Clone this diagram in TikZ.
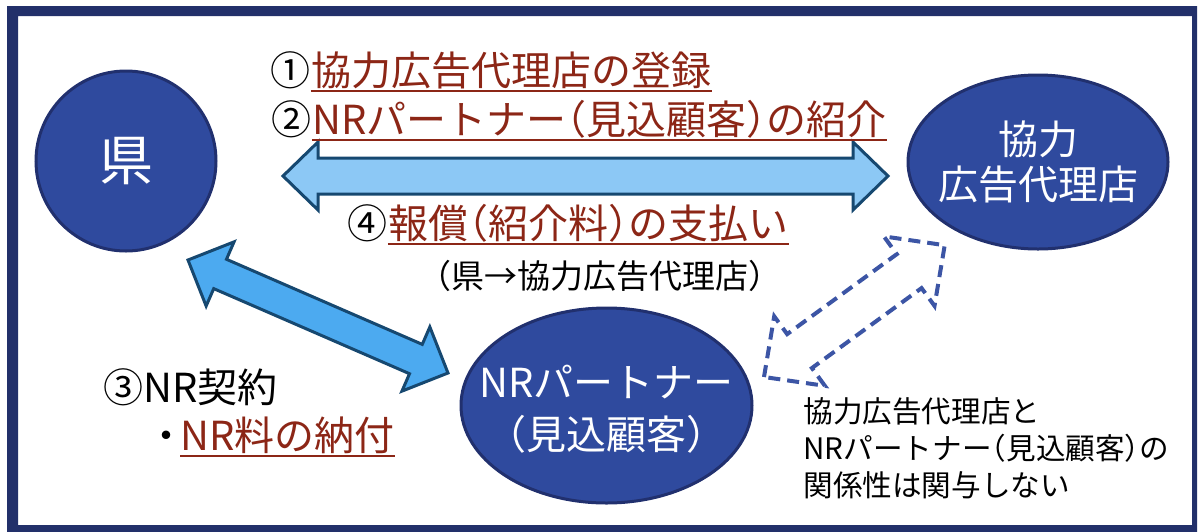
\documentclass[tikz,border=0pt]{standalone}
\usepackage{fontspec}
\setmainfont{Noto Sans CJK JP}
\newfontfamily\haltfont[RawFeature=+halt]{Noto Sans CJK JP}
\newcommand{\lkak}{{\haltfont （}}
\newcommand{\rkak}{{\haltfont ）}}
\usetikzlibrary{shapes.geometric,calc,positioning}

\definecolor{frameblue}{RGB}{34,48,106}
\definecolor{nodeblue}{RGB}{47,74,158}
\definecolor{nodeedge}{RGB}{33,48,110}
\definecolor{lightarrow}{RGB}{140,200,245}
\definecolor{midarrow}{RGB}{76,170,240}
\definecolor{arrowedge}{RGB}{22,72,112}
\definecolor{dashblue}{RGB}{60,85,165}
\definecolor{ulred}{RGB}{140,38,22}

\tikzset{
  bignode/.style={draw=nodeedge, fill=nodeblue, line width=1.5pt, inner sep=0pt},
  whitetext/.style={text=white, inner sep=0pt, align=center},
  fatline/.style={draw=arrowedge, line width=1.5pt, line join=miter},
  dashline/.style={draw=dashblue, fill=white, line width=2pt, dash pattern=on 6pt off 3.5pt, line join=miter},
  lbl/.style={inner sep=0pt, anchor=base west, font=\fontsize{20pt}{24pt}\selectfont},
  redlbl/.style={lbl, text=ulred},
  uline/.style={draw=ulred, line width=1pt},
}

% fat double arrow: [style]{from}{to}{head length}{head half width}{shaft half width}
\newcommand{\fatarrow}[6][fatline]{%
  \path let \p1=($(#3)-(#2)$) in \pgfextra{%
    \pgfmathparse{atan2(\y1,\x1)}\xdef\arrang{\pgfmathresult}%
    \pgfmathparse{veclen(\x1,\y1)}\xdef\arrlen{\pgfmathresult}};
  \begin{scope}[shift={(#2)},rotate=\arrang]
    \draw[#1] (0pt,0pt) -- (#4pt,#5pt) -- (#4pt,#6pt) -- ({\arrlen pt-#4pt},#6pt)
      -- ({\arrlen pt-#4pt},#5pt) -- (\arrlen pt,0pt) -- ({\arrlen pt-#4pt},-#5pt)
      -- ({\arrlen pt-#4pt},-#6pt) -- (#4pt,-#6pt) -- (#4pt,-#5pt) -- cycle;
  \end{scope}}

\begin{document}
\begin{tikzpicture}[x=0.5pt,y=-0.5pt]
    \useasboundingbox (0,0) rectangle (1200,531);
    %% frame
    \fill[frameblue, even odd rule] (7,6) rectangle (1197,536) (18,16) rectangle (1192,525);

    %% arrows
    \coordinate (hl) at (283,176);
    \coordinate (hr) at (888,176);
    \coordinate (dl) at (188,260);
    \coordinate (dr) at (448,373);
    \coordinate (ql) at (764,377);
    \coordinate (qr) at (945,245);
    \fatarrow[fatline, fill=lightarrow]{hl}{hr}{17.5}{17}{9}
    \fatarrow[fatline, fill=midarrow]{dl}{dr}{17.5}{17.5}{8}
    \fatarrow[dashline]{ql}{qr}{22}{21.5}{10.5}

    %% node
    \node (ken) [bignode, circle, minimum size=90pt] at (126,161) {};
    \node (agency) [bignode, ellipse, minimum width=130pt, minimum height=87pt] at (1038,162) {};
    \node (partner) [bignode, ellipse, minimum width=145.5pt, minimum height=97.5pt] at (606.5,405.5) {};
    \node (kentxt) [whitetext, font=\fontsize{27pt}{30pt}\selectfont] at (ken) {県};
    \node (agencytxt) [whitetext, font=\fontsize{20pt}{22.5pt}\selectfont] at (agency) {協力\\広告代理店};
    \node (partnertxt) [whitetext, font=\fontsize{20pt}{26pt}\selectfont, yshift=-2pt] at (partner) {NRパートナー\\（見込顧客）};

    %% labels
    \node (n1) [lbl] at (270,85) {①};
    \node (t1) [redlbl] at (n1.base east) {協力広告代理店の登録};
    \node (n2) [lbl] at (271,134) {②};
    \node (t2) [redlbl] at (n2.base east) {NRパートナー\lkak 見込顧客\rkak の紹介};
    \node (n4) [lbl] at (347,238) {④};
    \node (t4) [redlbl] at (n4.base east) {報償\lkak 紹介料\rkak の支払い};
    \node (sub) [lbl, anchor=base, font=\fontsize{16.5pt}{19pt}\selectfont] at (600,288) {（県→協力広告代理店）};
    \node (n3) [lbl] at (103,402) {③NR契約};
    \node (dot) [lbl, anchor=base] at (166,450) {・};
    \node (t3) [redlbl] at (180,450) {NR料の納付};
    \foreach \t in {t1,t2,t4,t3}
      \draw[uline] ([yshift=-3pt]\t.base west) -- ([yshift=-3pt]\t.base east);

    \node (note) [inner sep=0pt, anchor=west, align=left, font=\fontsize{14.8pt}{18.5pt}\selectfont] at (803,448)
      {協力広告代理店と\\NRパートナー\lkak 見込顧客\rkak の\\関係性は関与しない};
\end{tikzpicture}
\end{document}
